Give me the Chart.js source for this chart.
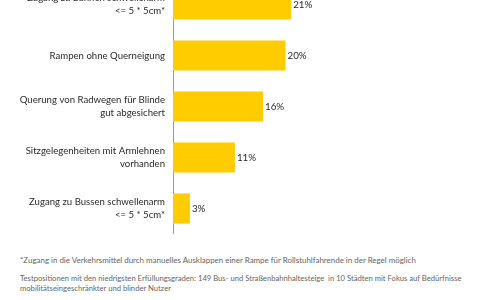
<!DOCTYPE html>
<html><head><meta charset="utf-8">
<script src="https://cdn.jsdelivr.net/npm/chart.js@4/dist/chart.umd.min.js"></script>
<style>
html,body{margin:0;padding:0;width:480px;height:300px;overflow:hidden;background:#fff;font-family:Lato,sans-serif;}
#wrap{position:absolute;left:0;top:-21px;width:480px;height:255px;}
.note{position:absolute;left:20px;color:#666;font-size:7.95px;line-height:10px;white-space:nowrap;}
</style></head><body>
<div id="wrap"><canvas id="c"></canvas></div>
<div class="note" style="top:255px;">*Zugang in die Verkehrsmittel durch manuelles Ausklappen einer Rampe für Rollstuhlfahrende in der Regel möglich</div>
<div class="note" style="top:273px;font-size:7.65px;">Testpositionen mit den niedrigsten Erfüllungsgraden: 149 Bus- und Straßenbahnhaltesteige&nbsp; in 10 Städten mit Fokus auf Bedürfnisse<br>mobilitätseingeschränkter und blinder Nutzer</div>
<script>
const categories = [
  ["Zugang zu Bahnen schwellenarm", "<= 5 * 5cm*"],
  "Rampen ohne Querneigung",
  ["Querung von Radwegen für Blinde", "gut abgesichert"],
  ["Sitzgelegenheiten mit Armlehnen", "vorhanden"],
  ["Zugang zu Bussen schwellenarm", "<= 5 * 5cm*"]
];
const values = [21, 20, 16, 11, 3];
const valueLabels = ["21%", "20%", "16%", "11%", "3%"];

const labelPlugin = {
  id: 'valueLabels',
  afterDatasetsDraw(chart) {
    const ctx = chart.ctx;
    const meta = chart.getDatasetMeta(0);
    ctx.save();
    ctx.font = '9.8px Lato';
    ctx.fillStyle = '#2b2b2b';
    ctx.textBaseline = 'middle';
    ctx.textAlign = 'left';
    meta.data.forEach((bar, i) => {
      ctx.fillText(valueLabels[i], bar.x + 2, bar.y);
    });
    ctx.restore();
  }
};

new Chart(document.getElementById('c'), {
  type: 'bar',
  data: {
    labels: categories,
    datasets: [{
      data: values,
      backgroundColor: '#FFCC00',
      borderWidth: 0,
      barPercentage: 0.59,
      categoryPercentage: 1
    }]
  },
  options: {
    indexAxis: 'y',
    responsive: true,
    maintainAspectRatio: false,
    animation: false,
    layout: { padding: { left: 0, right: 82, top: 0, bottom: 0 } },
    plugins: { legend: { display: false }, tooltip: { enabled: false } },
    scales: {
      x: { display: false, min: 0, max: 40 },
      y: {
        grid: { display: false, drawTicks: false },
        border: { display: true, color: '#999', width: 1 },
        ticks: {
          color: '#2b2b2b',
          padding: 8,
          font: { family: 'Lato', size: 9.6, lineHeight: 1.3 }
        },
        afterFit(scale) {
          scale.width = 173;
          scale.paddingTop = 0;
          scale.paddingBottom = 0;
        }
      }
    }
  },
  plugins: [labelPlugin]
});
</script>
</body></html>
